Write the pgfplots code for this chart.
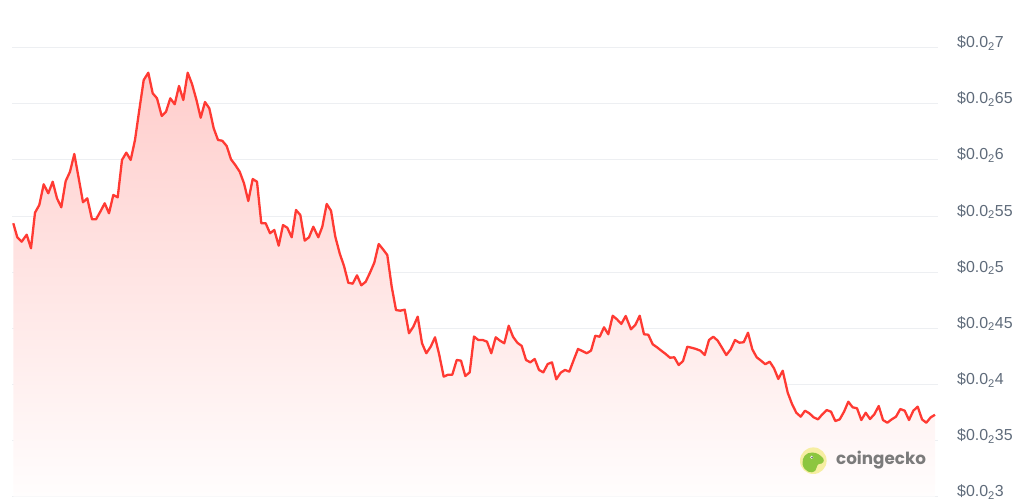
\documentclass[border=0pt]{standalone}
\usepackage{fontspec}
\setmainfont{Liberation Sans}
\newfontfamily\cgfont{Poppins}
\usepackage{pgfplots}
\pgfplotsset{compat=1.18}
\usepackage{pgfplotstable}
\definecolor{linered}{HTML}{FF3A33}
\definecolor{gridgray}{HTML}{EDEFF2}
\definecolor{labelgray}{HTML}{5F6B7A}
\definecolor{cgyellow}{HTML}{F6EEA2}
\definecolor{cggreen}{HTML}{8CC63F}
\definecolor{cgtext}{HTML}{7B7B7B}

\pgfplotstableread{
x y
13.3 5.436
17.3 5.311
21.7 5.272
26.7 5.334
31.0 5.213
35.0 5.530
39.3 5.599
43.7 5.783
48.3 5.703
52.7 5.806
57.0 5.658
61.3 5.578
65.7 5.812
70.0 5.895
74.3 6.053
78.7 5.837
83.0 5.623
87.3 5.658
92.0 5.471
96.0 5.471
100.3 5.539
104.7 5.614
109.0 5.525
113.3 5.688
117.7 5.667
122.0 6.000
126.3 6.065
130.7 6.000
135.0 6.178
139.3 6.445
143.7 6.712
148.3 6.777
152.7 6.594
157.0 6.549
161.7 6.392
166.0 6.430
170.3 6.549
174.7 6.496
179.0 6.659
183.3 6.534
187.7 6.777
192.0 6.677
196.3 6.540
200.7 6.376
205.0 6.516
209.3 6.460
213.7 6.282
218.0 6.178
222.3 6.171
226.7 6.124
231.0 6.006
235.3 5.955
239.7 5.895
244.0 5.792
248.3 5.634
252.7 5.830
257.0 5.806
261.3 5.436
265.7 5.436
270.0 5.347
274.3 5.376
278.7 5.236
283.0 5.420
287.3 5.396
291.7 5.311
296.0 5.554
300.3 5.510
304.7 5.281
309.0 5.311
313.3 5.405
318.3 5.311
322.3 5.405
326.7 5.608
331.0 5.548
335.3 5.316
339.7 5.168
344.0 5.055
348.3 4.906
352.7 4.898
357.0 4.972
361.3 4.883
365.7 4.915
370.0 4.996
374.3 5.085
378.7 5.251
383.0 5.204
387.3 5.153
391.7 4.871
396.0 4.663
400.3 4.657
404.7 4.666
409.0 4.456
413.3 4.514
417.7 4.604
422.0 4.367
426.3 4.278
430.7 4.336
435.0 4.420
439.3 4.262
443.7 4.069
448.0 4.087
452.3 4.087
456.7 4.218
461.0 4.212
465.3 4.075
469.7 4.108
474.0 4.427
478.3 4.396
482.7 4.396
487.0 4.381
491.3 4.278
495.7 4.420
500.0 4.390
504.3 4.367
508.7 4.523
513.0 4.425
517.3 4.372
521.7 4.343
526.0 4.218
530.3 4.197
534.7 4.227
539.0 4.129
543.3 4.108
547.7 4.182
552.0 4.197
556.3 4.046
560.7 4.105
565.0 4.129
569.3 4.114
573.7 4.218
578.0 4.316
582.3 4.298
586.7 4.278
591.0 4.301
595.3 4.434
599.7 4.425
604.0 4.509
608.3 4.447
612.7 4.612
617.0 4.580
621.3 4.539
625.7 4.610
631.0 4.491
635.3 4.530
639.7 4.612
644.0 4.447
648.3 4.443
652.7 4.358
657.0 4.331
661.3 4.301
665.7 4.271
670.0 4.238
674.3 4.242
678.7 4.173
683.0 4.209
687.3 4.336
691.7 4.327
696.0 4.316
700.3 4.301
704.7 4.262
709.0 4.396
713.3 4.425
717.7 4.390
722.0 4.327
726.3 4.262
730.7 4.313
735.0 4.396
739.3 4.372
743.7 4.376
748.0 4.461
752.3 4.313
756.7 4.242
761.0 4.212
765.3 4.180
769.7 4.203
774.0 4.144
778.3 4.049
782.7 4.122
787.7 3.927
792.0 3.826
796.3 3.748
800.7 3.713
805.0 3.766
809.3 3.743
813.7 3.707
818.0 3.689
822.3 3.734
826.7 3.772
831.0 3.757
835.3 3.674
839.7 3.689
844.0 3.757
848.3 3.846
852.7 3.796
857.0 3.788
861.3 3.683
865.7 3.748
870.0 3.692
874.3 3.734
878.7 3.808
883.0 3.683
887.3 3.659
891.7 3.689
896.0 3.713
900.3 3.781
904.7 3.766
909.0 3.683
913.3 3.766
917.7 3.802
922.0 3.689
926.3 3.659
930.7 3.707
935.0 3.730
}\pricedata

\begin{document}
\begin{tikzpicture}
\useasboundingbox (0,0) rectangle (1024bp,501bp);
\begin{axis}[
  at={(12bp,4.3bp)}, anchor=south west,
  scale only axis, width=926bp, height=449bp,
  xmin=12, xmax=938, ymin=3, ymax=7,
  axis line style={draw=none},
  xtick=\empty,
  ytick={3,3.5,4,4.5,5,5.5,6,6.5,7},
  yticklabels={\$0.0\textsubscript{2}3,\$0.0\textsubscript{2}35,\$0.0\textsubscript{2}4,\$0.0\textsubscript{2}45,\$0.0\textsubscript{2}5,\$0.0\textsubscript{2}55,\$0.0\textsubscript{2}6,\$0.0\textsubscript{2}65,\$0.0\textsubscript{2}7},
  yticklabel pos=right,
  yticklabel style={anchor=base west, inner sep=0pt, xshift=19bp, font=\fontsize{16}{16}\selectfont, text=labelgray},
  major tick length=0pt,
  tick style={draw=none},
  ymajorgrids,
  major grid style={gridgray, line width=1bp},
  clip=false,
]
\addplot[draw=none, top color=linered!25!white, bottom color=linered!1!white, forget plot]
  table {\pricedata} -- (axis cs:935,3) -- (axis cs:13.3,3) -- cycle;
\addplot[linered, line width=2.3bp, line join=round, mark=none] table {\pricedata};
\end{axis}
% coingecko watermark
\fill[cgyellow] (813.3bp,40.3bp) circle (13.3bp);
\fill[cggreen] (802.5bp,37bp) .. controls (802bp,44bp) and (806bp,48.5bp) .. (812bp,48.5bp)
  .. controls (817bp,48.5bp) and (820bp,46bp) .. (823bp,43bp)
  .. controls (825bp,40bp) and (823bp,37bp) .. (819bp,37bp)
  .. controls (817bp,37bp) and (817bp,33bp) .. (815bp,30bp)
  .. controls (812bp,27bp) and (804bp,29bp) .. (802.5bp,37bp) -- cycle;
\fill[white] (811.7bp,43.7bp) circle (1.6bp);
\fill[black!70] (812bp,43.7bp) circle (0.8bp);
\node[anchor=west, inner sep=0pt, text=cgtext, font=\cgfont\bfseries\fontsize{16.8}{16.8}\selectfont] at (836bp,41bp) {coingecko};
\end{tikzpicture}
\end{document}
